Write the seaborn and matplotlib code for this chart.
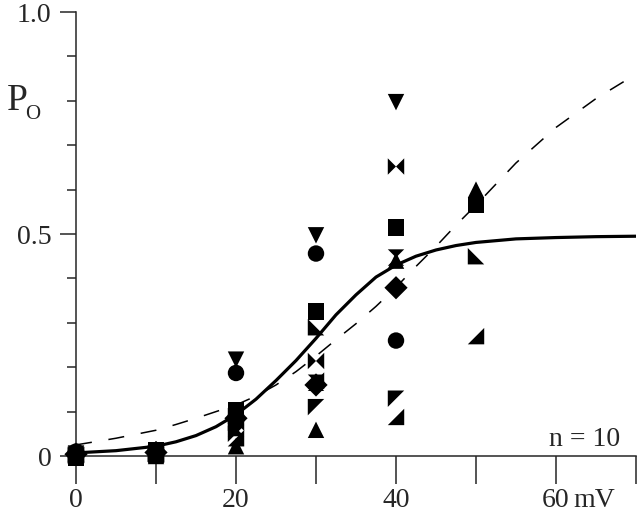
import numpy as np
import pandas as pd
import matplotlib
matplotlib.use("Agg")
import matplotlib.pyplot as plt
import matplotlib.transforms as mtransforms
import seaborn as sns

# test potentials (mV) where open probability was measured
voltages = [0, 10, 20, 30, 40, 50]

# one list per cell (n = 10), None where no point was shown
cell_down_tri = [0.005, 0.005, 0.217, 0.497, 0.797, None]
cell_circle = [0.010, 0.010, 0.187, 0.456, 0.260, None]
cell_square = [-0.005, 0.013, 0.104, 0.325, 0.515, 0.565]
cell_bowtie = [0.003, 0.005, 0.075, 0.214, 0.652, None]
cell_hourglass = [0.005, 0.003, 0.063, 0.165, 0.447, None]
cell_diamond = [0.004, 0.008, 0.085, 0.160, 0.379, None]
cell_up_tri = [0.005, 0.000, 0.022, 0.059, 0.440, 0.600]
cell_ul_tri = [0.000, 0.005, 0.050, 0.110, 0.129, None]
cell_lr_tri = [0.002, 0.003, 0.040, 0.170, 0.088, 0.270]
cell_ll_tri = [0.003, 0.005, 0.090, 0.290, None, 0.450]

# fitted curves
curve_v = [0, 5, 10, 12.5, 15, 17.5, 20, 22.5, 25, 27.5, 30, 32.5, 35, 37.5,
           40, 42.5, 45, 47.5, 50, 55, 60, 65, 70]
solid_po = [0.007, 0.012, 0.022, 0.032, 0.046, 0.066, 0.093, 0.128, 0.170,
            0.215, 0.265, 0.318, 0.363, 0.403, 0.430, 0.450, 0.464, 0.474,
            0.481, 0.489, 0.492, 0.494, 0.495]
dashed_po = [0.025, 0.040, 0.058, 0.071, 0.085, 0.100, 0.115, 0.135, 0.160,
             0.190, 0.225, 0.262, 0.298, 0.337, 0.380, 0.427, 0.472, 0.520,
             0.565, 0.660, 0.740, 0.805, 0.860]

cells = {
    "c1": cell_down_tri, "c2": cell_circle, "c3": cell_square,
    "c4": cell_bowtie, "c5": cell_hourglass, "c6": cell_diamond,
    "c7": cell_up_tri, "c8": cell_ul_tri, "c9": cell_lr_tri, "c10": cell_ll_tri,
}
marker_map = {
    "c1": "v", "c2": "o", "c3": "s",
    "c4": [(-1, -1), (-1, 1), (0, 0), (1, 1), (1, -1), (0, 0)],
    "c5": [(-1, 1), (1, 1), (0, 0), (1, -1), (-1, -1), (0, 0)],
    "c6": "D", "c7": "^",
    "c8": [(-1, 1), (1, 1), (-1, -1)],
    "c9": [(1, -1), (1, 1), (-1, -1)],
    "c10": [(-1, -1), (-1, 1), (1, -1)],
}

rows = []
for name, vals in cells.items():
    for v, p in zip(voltages, vals):
        if p is not None:
            rows.append({"mV": v, "Po": p, "cell": name})
df = pd.DataFrame(rows)

sns.set_style("ticks")
plt.rcParams["font.family"] = ["Liberation Serif", "DejaVu Serif"]

fig = plt.figure(figsize=(6.4, 5.18), dpi=100)
ax = fig.add_axes([76 / 640, 62 / 518, 560 / 640, 444 / 518])

sns.lineplot(x=curve_v, y=dashed_po, color="black", lw=1.1,
             linestyle=(0, (10.5, 11)), ax=ax)
sns.lineplot(x=curve_v, y=solid_po, color="black", lw=2.3, ax=ax)
sns.scatterplot(data=df, x="mV", y="Po", style="cell", markers=marker_map,
                color="black", s=140, linewidth=0, legend=False, ax=ax,
                clip_on=False, zorder=3)

ax.set_xlim(0, 70)
ax.set_ylim(0, 1.0)
sns.despine(ax=ax)
for sp in ["left", "bottom"]:
    ax.spines[sp].set_linewidth(1.1)

xpad = 3
ax.set_xticks([0, 10, 20, 30, 40, 50, 60, 70])
ax.set_xticklabels(["0", "", "20", "", "40", "", "60", ""])
ax.set_yticks([0, 0.5, 1.0])
ax.set_yticklabels(["0", "0.5", "1.0"])
ax.set_yticks(np.arange(0, 1.01, 0.1), minor=True)
ax.tick_params(axis="x", direction="out", length=20, width=1.1, labelsize=20, pad=xpad)
ax.tick_params(axis="y", which="major", direction="out", length=11.5, width=1.1,
               labelsize=20, pad=6)
ax.tick_params(axis="y", which="minor", direction="out", length=6.5, width=1.1)
ax.set_xlabel("")
ax.set_ylabel("")

mv_trans = mtransforms.offset_copy(ax.get_xaxis_transform(), fig=fig,
                                   y=-(20 + xpad), units="points")
ax.text(62.2, 0, "mV", transform=mv_trans, fontsize=20, ha="left", va="top")
ax.text(-8.7, 0.80, "P", fontsize=27, ha="left", va="center", clip_on=False)
ax.text(-6.3, 0.77, "O", fontsize=15, ha="left", va="center", clip_on=False)
ax.text(59.1, 0.022, "n = 10", fontsize=20, ha="left", va="baseline")

fig.savefig("out.png", dpi=100)
